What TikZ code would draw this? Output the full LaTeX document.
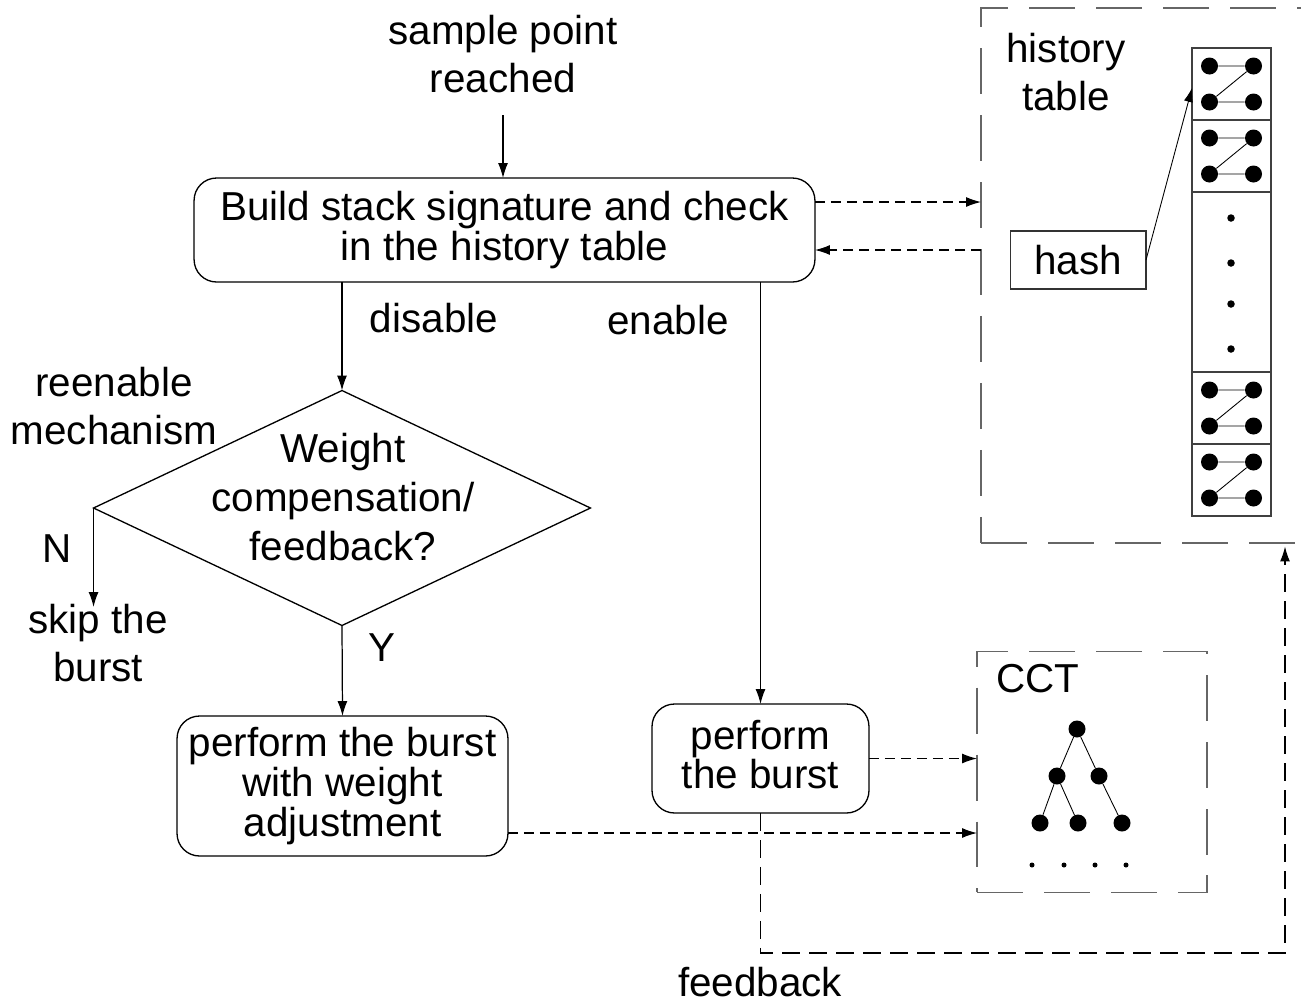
\documentclass[tikz,border=0pt]{standalone}
\usepackage{fontspec}
\setmainfont{Liberation Sans}
\usetikzlibrary{shapes.geometric,arrows.meta}
\begin{document}
\begin{tikzpicture}[x=0.02cm,y=-0.02cm,
  every node/.style={font=\fontsize{23}{27.3}\selectfont},
  lbl/.style={align=center,inner sep=0pt},
  flowbox/.style={draw,rounded corners=0.45cm,line width=0.75pt,align=center,inner sep=0pt,outer sep=0pt,
    font=\fontsize{23}{22.6}\selectfont},
  arr/.style={-{Latex[length=0.3cm,width=0.2cm]},line width=0.7pt},
  dasharr/.style={arr,dash pattern=on 0.2cm off 0.12cm},
  fbline/.style={arr,dash pattern=on 0.36cm off 0.18cm},
  frame/.style={draw=black!60,line width=0.75pt,dash pattern=on 0.92cm off 0.42cm,inner sep=0pt,outer sep=0pt},
  cell/.style={draw=black!75,line width=0.6pt,minimum width=1.58cm,inner sep=0pt,outer sep=0pt},
  bigdot/.style={circle,fill=black,inner sep=0pt,minimum size=0.34cm},
  smalldot/.style={circle,fill=black,inner sep=0pt,minimum size=0.15cm},
  tinydot/.style={circle,fill=black,inner sep=0pt,minimum size=0.1cm},
  thin link/.style={line width=0.5pt}]
\useasboundingbox (0,0) rectangle (1301,1005);
\clip (0,0) rectangle (1301,1005);

% main flow
\node[lbl] (start) at (503,54) {sample point\\reached};
\node[flowbox,minimum width=12.42cm,minimum height=2.08cm] (build) at (504.5,230)
  {Build stack signature and check\\in the history table};
\node[draw,diamond,line width=0.75pt,minimum width=9.94cm,minimum height=4.7cm,inner sep=0pt,outer sep=0pt] (dec) at (342,508) {};
\node[lbl,font=\fontsize{23}{27.8}\selectfont] (dectext) at (343,497) {Weight\\compensation/\\feedback?};
\node[flowbox,minimum width=6.62cm,minimum height=2.8cm] (adj) at (342.5,786)
  {perform the burst\\with weight\\adjustment};
\node[flowbox,minimum width=4.34cm,minimum height=2.18cm] (burst) at (760.5,758.5)
  {perform\\the burst\rule[-0.16cm]{0pt}{0pt}};

\node[lbl] at (434,318) {disable};
\node[lbl] at (668,320) {enable};
\node[lbl] at (114,406) {reenable\\mechanism};
\node[lbl] at (57,549) {N};
\node[lbl] (skip) at (98,643) {skip the\\burst};
\node[lbl] at (382,648) {Y};
\node[lbl] at (760,982) {feedback};
\coordinate (skiptop) at (93,607);

\draw[arr] (start.south |- 0,115) -- (start.south |- build.north);
\draw[arr] (dec.north |- build.south) -- (dec.north);
\draw[arr] (burst.north |- build.south) -- (burst.north);
\draw[arr] (dec.west) -- (dec.west |- skiptop);
\draw[arr] (dec.south) -- (adj.north);

% history table
\node[frame,draw,minimum width=6.98cm,minimum height=10.7cm] (hist) at (1155.5,275.5) {};
\node[lbl] at (1066,72) {history\\table};
\node[cell,minimum height=1.44cm] (c1) at (1231.5,84) {};
\node[cell,minimum height=1.44cm] (c2) at (1231.5,156) {};
\node[cell,minimum height=3.6cm] (c3) at (1231.5,282) {};
\node[cell,minimum height=1.44cm] (c4) at (1231.5,408) {};
\node[cell,minimum height=1.44cm] (c5) at (1231.5,480) {};
\foreach \c in {c1,c2,c4,c5}{
  \path (\c.center) ++(-22,-18) node[bigdot] (\c-tl) {}
        (\c.center) ++(22,-18)  node[bigdot] (\c-tr) {}
        (\c.center) ++(-22,18)  node[bigdot] (\c-bl) {}
        (\c.center) ++(22,18)   node[bigdot] (\c-br) {};
  \draw[thin link] (\c-tl) -- (\c-tr) (\c-bl) -- (\c-br) (\c-bl) -- (\c-tr);
}
\foreach \y [count=\i] in {218,263,304,349}
  \node[smalldot] (m\i) at (1231,\y) {};
\node[draw=black!80,line width=0.6pt,minimum width=2.72cm,minimum height=1.16cm,inner sep=0pt,outer sep=0pt] (hash) at (1078,260) {hash};
\draw[-{Latex[length=0.28cm,width=0.18cm]},line width=0.5pt] (hash.east) -- ([yshift=-0.08cm]c1.west);

\draw[dasharr] ([yshift=0.56cm]build.east) -- ([yshift=0.56cm]build.east -| hist.west);
\draw[dasharr] ([yshift=-0.4cm]build.east -| hist.west) -- ([yshift=-0.4cm]build.east);

% calling context tree
\node[frame,draw,minimum width=4.6cm,minimum height=4.82cm] (cct) at (1092,772) {};
\node[lbl] at (1038,679) {CCT};
\node[bigdot] (r)  at (1077,729) {};
\node[bigdot] (a)  at (1057,776) {};
\node[bigdot] (b)  at (1099,776) {};
\node[bigdot] (a1) at (1040,823) {};
\node[bigdot] (a2) at (1078,823) {};
\node[bigdot] (b1) at (1122,823) {};
\draw[thin link] (r) -- (a) (r) -- (b) (a) -- (a1) (a) -- (a2) (b) -- (b1);
\foreach \x [count=\i] in {1032,1064,1095,1126}
  \node[tinydot] (t\i) at (\x,865) {};

\draw[dasharr] (burst.east) -- (burst.east -| cct.west);
\draw[dasharr] ([yshift=-0.94cm]adj.east) -- ([yshift=-0.94cm]adj.east -| cct.west);

% feedback path
\coordinate (fbc) at (1285,953);
\draw[fbline,shorten >=2pt] (burst.south) |- (fbc) -- (fbc |- hist.south);
\end{tikzpicture}
\end{document}
